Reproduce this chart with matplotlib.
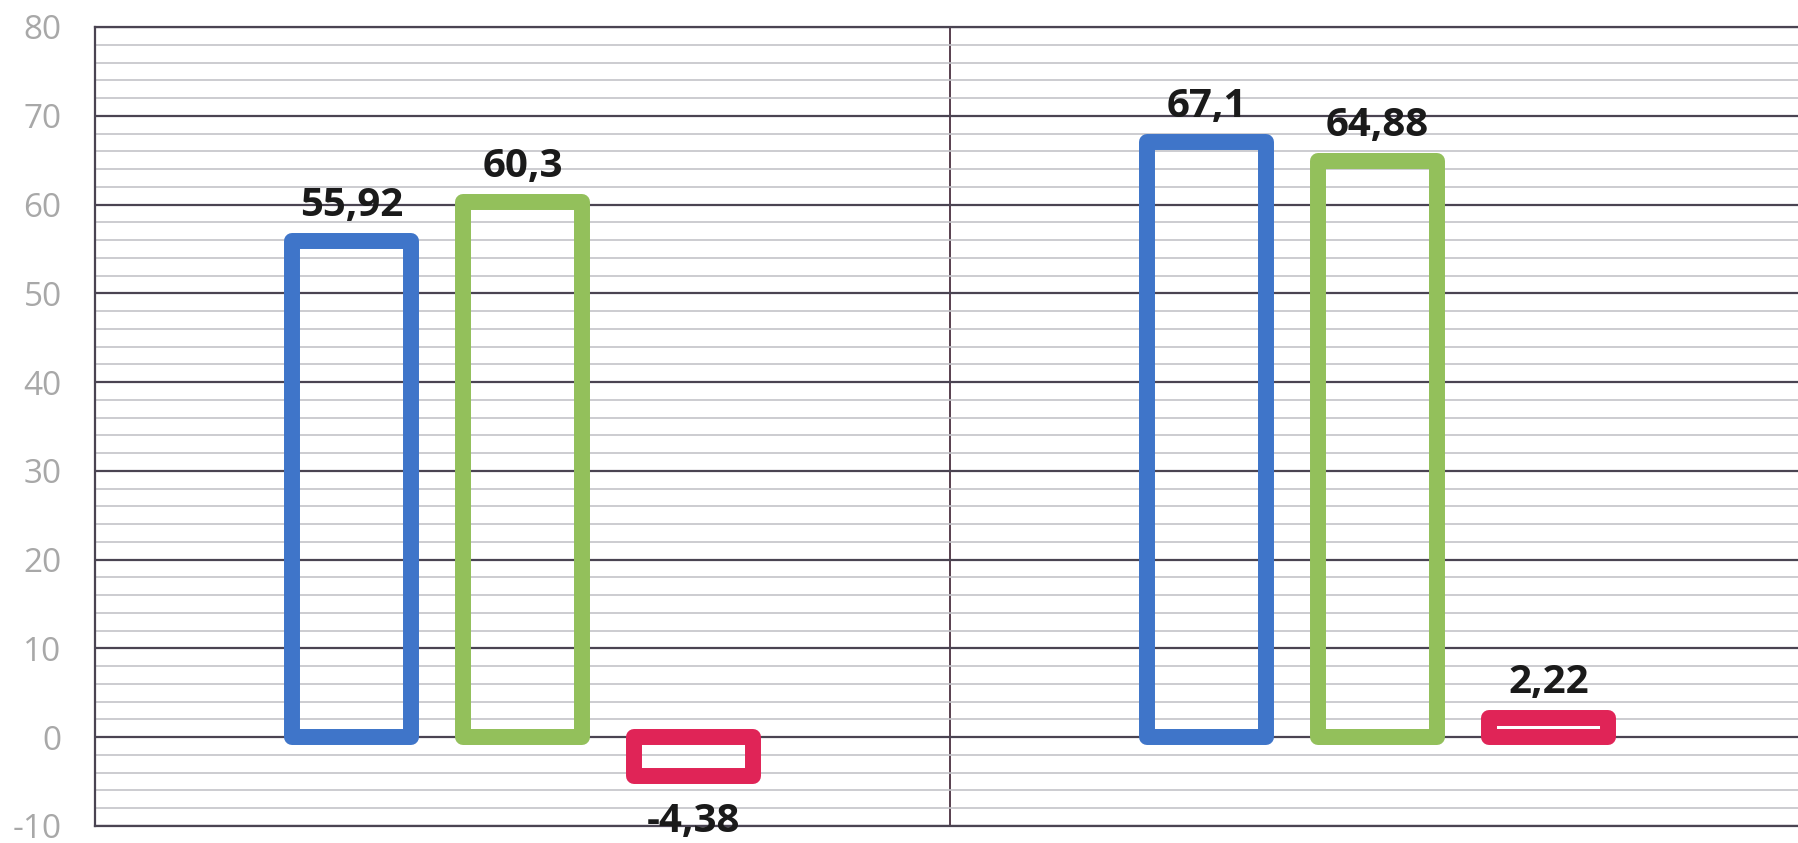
import numpy as np
import matplotlib.pyplot as plt
from matplotlib.ticker import MultipleLocator

# values (comma decimal labels)
groups = ['A', 'B']
series_1 = [55.92, 67.1]
series_2 = [60.3, 64.88]
series_3 = [-4.38, 2.22]
labels_1 = ['55,92', '67,1']
labels_2 = ['60,3', '64,88']
labels_3 = ['-4,38', '2,22']

colors = ['#3f75c9', '#93c05b', '#e02457']

plt.rcParams['font.family'] = ['Open Sans', 'DejaVu Sans']
plt.rcParams['axes.unicode_minus'] = False

fig = plt.figure(figsize=(17.98, 8.43), dpi=100)
ax = fig.add_axes([95 / 1798, 17 / 843, 1710 / 1798, 799 / 843])

x = np.arange(len(groups))
offsets = [-0.2, 0.0, 0.2]
width = 0.14

for vals, labs, off, col in zip([series_1, series_2, series_3],
                                [labels_1, labels_2, labels_3],
                                offsets, colors):
    bars = ax.bar(x + off, vals, width, facecolor='none', edgecolor=col,
                  linewidth=11.5, joinstyle='round', zorder=3)
    for b, v, lab in zip(bars, vals, labs):
        cx = b.get_x() + b.get_width() / 2
        if v >= 0:
            ax.annotate(lab, (cx, v), xytext=(0, 18), textcoords='offset points',
                        ha='center', va='baseline', fontsize=29,
                        fontweight='bold', color='#1a1a1a', zorder=4)
        else:
            ax.annotate(lab, (cx, v), xytext=(0, -19), textcoords='offset points',
                        ha='center', va='top', fontsize=29,
                        fontweight='bold', color='#1a1a1a', zorder=4)

ax.set_xlim(-0.5, 1.5)
ax.set_ylim(-10, 80)
ax.yaxis.set_major_locator(MultipleLocator(10))
ax.yaxis.set_minor_locator(MultipleLocator(2))
ax.grid(True, which='major', axis='y', color='#4a4452', linewidth=1.6, zorder=1)
ax.grid(True, which='minor', axis='y', color='#c4c4c8', linewidth=1.2, zorder=0)
ax.axvline(0.5, color='#4a3040', linewidth=1.3, zorder=1)

ax.set_xticks([])
ax.tick_params(axis='y', which='both', length=0, pad=24,
               labelsize=24, labelcolor='#a8a8a8')
for s in ax.spines.values():
    s.set_color('#4a4452')
    s.set_linewidth(1.6)

fig.savefig('out.png', dpi=100)
